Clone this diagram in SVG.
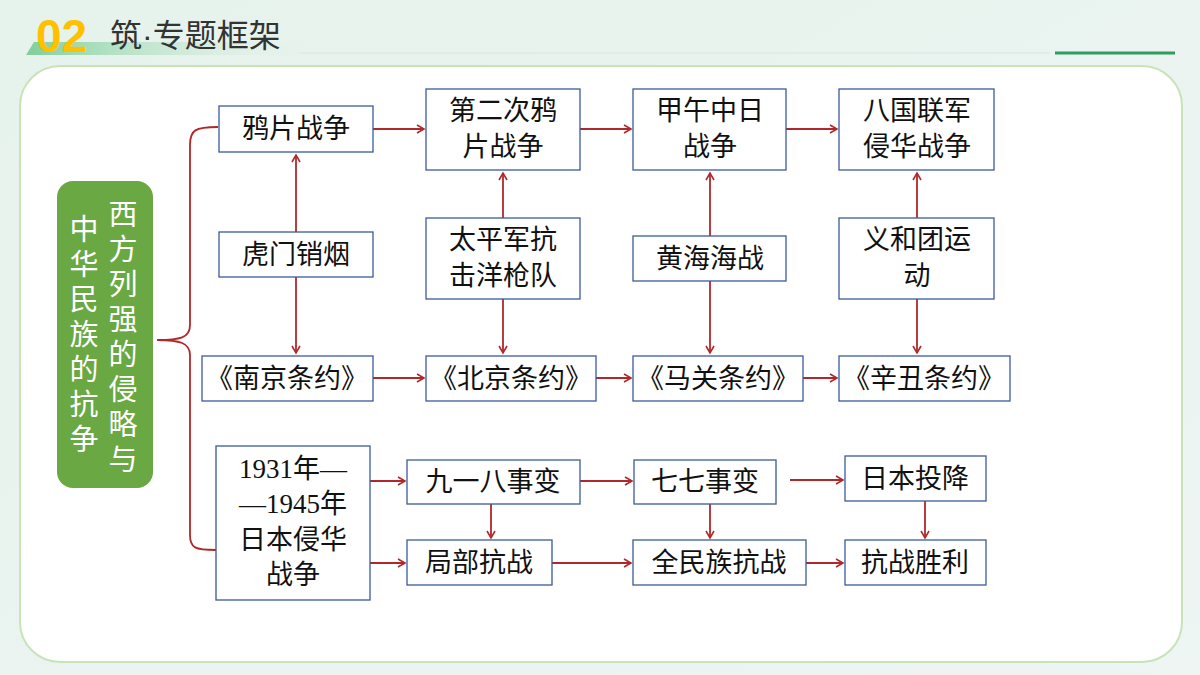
<svg xmlns="http://www.w3.org/2000/svg" width="1200" height="675" viewBox="0 0 1200 675">
<defs>
<linearGradient id="bg" x1="0" y1="0" x2="1" y2="1"><stop offset="0" stop-color="#e6f2ec"/><stop offset="1" stop-color="#eef5f3"/></linearGradient>
<linearGradient id="gb" x1="0" y1="0" x2="1" y2="0"><stop offset="0" stop-color="#7fcf9a"/><stop offset="1" stop-color="#e6f2ec" stop-opacity="0"/></linearGradient>
<marker id="ar" markerWidth="10" markerHeight="10" refX="8" refY="5" orient="auto-start-reverse" markerUnits="userSpaceOnUse"><path d="M1,1 L8,5 L1,9" fill="none" stroke="#b0282a" stroke-width="1.6"/></marker>
<style>
.b{fill:#fff;stroke:#3a5a9c;stroke-width:1.3}
.t{font-family:"Liberation Serif","Noto Sans CJK SC",serif;font-size:27px;fill:#111;text-anchor:middle}
.c{stroke:#b0282a;stroke-width:1.8;fill:none;marker-end:url(#ar)}
.cb{stroke:#b0282a;stroke-width:1.8;fill:none}
.v{font-family:"Noto Sans CJK SC",sans-serif;font-size:29px;fill:#fff;text-anchor:middle}
</style>
</defs>
<rect width="1200" height="675" fill="url(#bg)"/>
<polygon points="26,55 34,42 320,42 320,55" fill="url(#gb)"/>
<text x="36" y="52" font-family="Liberation Sans,sans-serif" font-weight="bold" font-size="46" fill="#ffc000">02</text>
<text x="110" y="47" font-family="Noto Sans CJK SC,sans-serif" font-size="32" fill="#333">筑<tspan font-family="Liberation Sans,sans-serif">·</tspan>专题框架</text>
<line x1="300" y1="53" x2="1050" y2="53" stroke="#d7e6dc" stroke-width="1"/>
<line x1="1055" y1="53" x2="1175" y2="53" stroke="#2e9e5e" stroke-width="3"/>
<rect x="20" y="66" width="1162" height="596" rx="40" fill="#fff" stroke="#c8e3b8" stroke-width="2"/>
<g id="root"><rect x="57" y="181" width="96" height="307" rx="16" fill="#6aa843"/>
<text class="v"><tspan x="123" y="225">西</tspan><tspan x="123" y="260">方</tspan><tspan x="123" y="295">列</tspan><tspan x="123" y="330">强</tspan><tspan x="123" y="365">的</tspan><tspan x="123" y="400">侵</tspan><tspan x="123" y="435">略</tspan><tspan x="123" y="470">与</tspan></text>
<text class="v"><tspan x="84" y="240">中</tspan><tspan x="84" y="275">华</tspan><tspan x="84" y="310">民</tspan><tspan x="84" y="345">族</tspan><tspan x="84" y="380">的</tspan><tspan x="84" y="415">抗</tspan><tspan x="84" y="450">争</tspan></text></g>
<g id="connectors">
<path class="cb" d="M218,127 C195,127 190,130 190,145 L190,325 C190,338 180,340 157,340 C180,340 190,343 190,355 L190,535 C190,548 195,550 216,550"/>
<path class="c" d="M373,129 H424"/><path class="c" d="M580,129 H631"/><path class="c" d="M786,129 H837"/>
<path class="c" d="M296,232 V155"/><path class="c" d="M296,277 V353"/>
<path class="c" d="M503,218 V173"/><path class="c" d="M503,299 V353"/>
<path class="c" d="M710,236 V173"/><path class="c" d="M710,281 V353"/>
<path class="c" d="M917,218 V173"/><path class="c" d="M917,299 V353"/>
<path class="c" d="M373,378 H424"/><path class="c" d="M596,378 H631"/><path class="c" d="M803,378 H837"/>
<path class="c" d="M370,481 H405"/><path class="c" d="M370,563 H405"/>
<path class="c" d="M580,481 H632"/><path class="c" d="M790,480 H843"/>
<path class="c" d="M491,504 V538"/><path class="c" d="M710,504 V538"/><path class="c" d="M925,501 V538"/>
<path class="c" d="M552,563 H631"/><path class="c" d="M806,563 H843"/>
</g>
<g id="n1"><rect class="b" x="219" y="106" width="154" height="46"/><text class="t" x="296" y="138">鸦片战争</text></g>
<g id="n2"><rect class="b" x="426" y="89" width="154" height="81"/><text class="t" x="503" y="120">第二次鸦</text><text class="t" x="503" y="156">片战争</text></g>
<g id="n3"><rect class="b" x="633" y="89" width="153" height="81"/><text class="t" x="710" y="120">甲午中日</text><text class="t" x="710" y="156">战争</text></g>
<g id="n4"><rect class="b" x="839" y="89" width="155" height="81"/><text class="t" x="917" y="120">八国联军</text><text class="t" x="917" y="156">侵华战争</text></g>
<g id="n5"><rect class="b" x="219" y="232" width="154" height="45"/><text class="t" x="296" y="264">虎门销烟</text></g>
<g id="n6"><rect class="b" x="426" y="218" width="154" height="81"/><text class="t" x="503" y="249">太平军抗</text><text class="t" x="503" y="285">击洋枪队</text></g>
<g id="n7"><rect class="b" x="633" y="236" width="153" height="45"/><text class="t" x="710" y="268">黄海海战</text></g>
<g id="n8"><rect class="b" x="839" y="218" width="155" height="81"/><text class="t" x="917" y="249">义和团运</text><text class="t" x="917" y="285">动</text></g>
<g id="n9"><rect class="b" x="202" y="356" width="171" height="45"/><text class="t" x="287" y="388">《南京条约》</text></g>
<g id="n10"><rect class="b" x="426" y="356" width="170" height="45"/><text class="t" x="511" y="388">《北京条约》</text></g>
<g id="n11"><rect class="b" x="633" y="356" width="170" height="45"/><text class="t" x="718" y="388">《马关条约》</text></g>
<g id="n12"><rect class="b" x="839" y="356" width="171" height="45"/><text class="t" x="924" y="388">《辛丑条约》</text></g>
<g id="n13"><rect class="b" x="216" y="446" width="154" height="154"/><text class="t" x="293" y="478">1931年—</text><text class="t" x="293" y="513">—1945年</text><text class="t" x="293" y="549">日本侵华</text><text class="t" x="293" y="584">战争</text></g>
<g id="n14"><rect class="b" x="407" y="460" width="173" height="44"/><text class="t" x="493" y="491">九一八事变</text></g>
<g id="n15"><rect class="b" x="634" y="460" width="142" height="44"/><text class="t" x="705" y="491">七七事变</text></g>
<g id="n16"><rect class="b" x="845" y="456" width="141" height="45"/><text class="t" x="915" y="488">日本投降</text></g>
<g id="n17"><rect class="b" x="407" y="540" width="145" height="45"/><text class="t" x="479" y="572">局部抗战</text></g>
<g id="n18"><rect class="b" x="633" y="540" width="173" height="45"/><text class="t" x="719" y="572">全民族抗战</text></g>
<g id="n19"><rect class="b" x="845" y="540" width="141" height="45"/><text class="t" x="915" y="572">抗战胜利</text></g>
</svg>
